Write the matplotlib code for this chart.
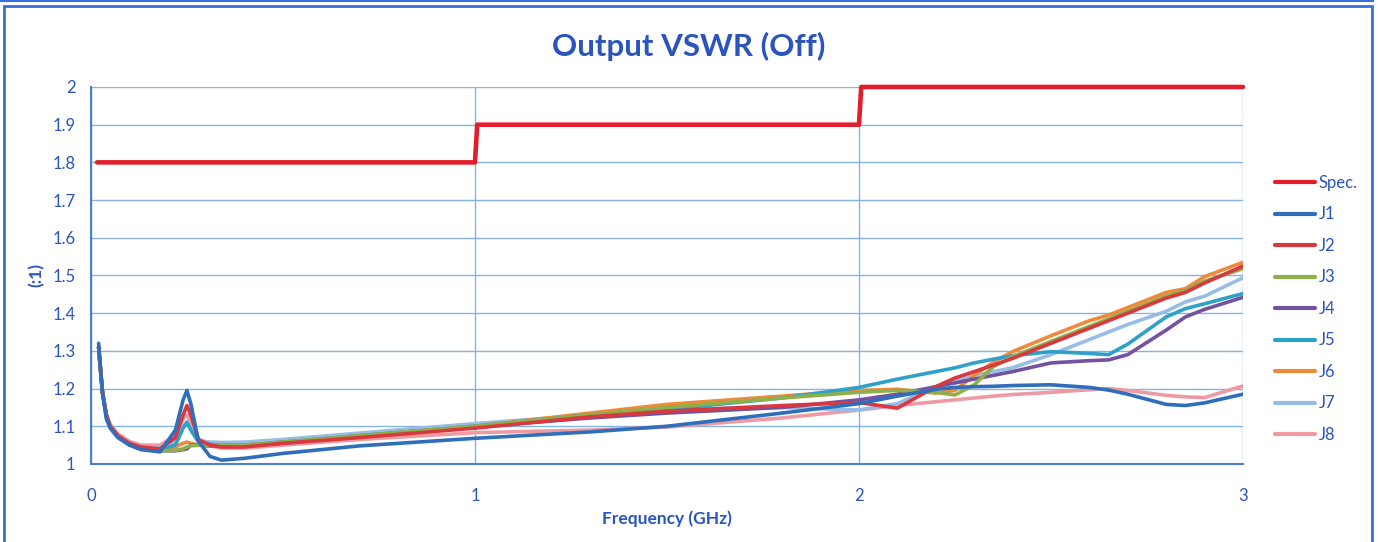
import matplotlib
matplotlib.use("Agg")
import matplotlib.pyplot as plt
from matplotlib.lines import Line2D

plt.rcParams['font.family'] = ['Lato', 'DejaVu Sans']

# spec limit
spec_freq = [0.016, 1.0, 1.006, 2.0, 2.006, 3.0]
spec_vswr = [1.8, 1.8, 1.9, 1.9, 2.0, 2.0]

freq = [0.02, 0.025, 0.03, 0.04, 0.05, 0.07, 0.1, 0.13, 0.18, 0.22, 0.24, 0.25, 0.26, 0.28,
        0.31, 0.34, 0.40, 0.5, 0.7, 1.0, 1.3, 1.5, 1.8, 2.0, 2.1, 2.2, 2.25,
        2.3, 2.35, 2.4, 2.5, 2.6, 2.65, 2.7, 2.8, 2.85, 2.9, 3.0]

j1 = [1.32, 1.25, 1.19, 1.12, 1.095, 1.07, 1.05, 1.038, 1.032, 1.09, 1.17, 1.195, 1.16, 1.06,
      1.02, 1.01, 1.015, 1.028, 1.048, 1.068, 1.085, 1.1, 1.135, 1.16, 1.18, 1.198, 1.203,
      1.205, 1.206, 1.208, 1.21, 1.203, 1.196, 1.185, 1.158, 1.155, 1.162, 1.185]
j2 = [1.31, 1.25, 1.19, 1.13, 1.1, 1.075, 1.055, 1.045, 1.04, 1.07, 1.13, 1.155, 1.13, 1.065,
      1.05, 1.045, 1.045, 1.055, 1.07, 1.095, 1.125, 1.14, 1.155, 1.163, 1.148, 1.205, 1.228,
      1.245, 1.262, 1.28, 1.32, 1.36, 1.38, 1.40, 1.44, 1.455, 1.48, 1.525]
j3 = [1.31, 1.25, 1.19, 1.13, 1.1, 1.072, 1.052, 1.04, 1.035, 1.036, 1.04, 1.045, 1.048, 1.05,
      1.05, 1.05, 1.05, 1.058, 1.075, 1.1, 1.13, 1.15, 1.175, 1.19, 1.195, 1.19, 1.183,
      1.21, 1.258, 1.285, 1.325, 1.365, 1.385, 1.405, 1.445, 1.46, 1.485, 1.518]
j4 = [1.31, 1.25, 1.19, 1.13, 1.1, 1.072, 1.052, 1.04, 1.035, 1.035, 1.038, 1.04, 1.05, 1.05,
      1.048, 1.048, 1.048, 1.055, 1.072, 1.098, 1.122, 1.135, 1.15, 1.17, 1.185, 1.205, 1.215,
      1.225, 1.235, 1.245, 1.268, 1.274, 1.276, 1.29, 1.355, 1.39, 1.41, 1.442]
j5 = [1.31, 1.25, 1.19, 1.13, 1.1, 1.073, 1.053, 1.042, 1.038, 1.05, 1.095, 1.11, 1.09, 1.058,
      1.052, 1.05, 1.05, 1.058, 1.075, 1.1, 1.13, 1.145, 1.175, 1.203, 1.225, 1.245, 1.255,
      1.268, 1.278, 1.287, 1.298, 1.293, 1.29, 1.318, 1.39, 1.412, 1.425, 1.452]
j6 = [1.31, 1.25, 1.19, 1.13, 1.1, 1.073, 1.053, 1.04, 1.04, 1.045, 1.055, 1.058, 1.055, 1.05,
      1.048, 1.048, 1.05, 1.058, 1.075, 1.1, 1.135, 1.158, 1.18, 1.195, 1.198, 1.188, 1.195,
      1.235, 1.27, 1.298, 1.34, 1.38, 1.395, 1.415, 1.455, 1.465, 1.497, 1.535]
j7 = [1.31, 1.25, 1.19, 1.13, 1.1, 1.075, 1.056, 1.045, 1.042, 1.06, 1.1, 1.112, 1.095, 1.062,
      1.058, 1.057, 1.058, 1.065, 1.082, 1.107, 1.13, 1.145, 1.15, 1.143, 1.16, 1.205, 1.22,
      1.235, 1.245, 1.255, 1.29, 1.33, 1.35, 1.37, 1.405, 1.43, 1.445, 1.494]
j8 = [1.30, 1.25, 1.19, 1.13, 1.105, 1.08, 1.06, 1.05, 1.05, 1.075, 1.12, 1.13, 1.11, 1.065,
      1.048, 1.042, 1.042, 1.05, 1.065, 1.083, 1.09, 1.098, 1.122, 1.143, 1.155, 1.165, 1.17,
      1.175, 1.18, 1.184, 1.19, 1.197, 1.2, 1.195, 1.182, 1.178, 1.176, 1.207]

series = [("J1", j1, "#2F6EBA"), ("J2", j2, "#D9383F"), ("J3", j3, "#8DB04A"),
          ("J4", j4, "#7352A0"), ("J5", j5, "#2FA0C8"), ("J6", j6, "#EE8A3A"),
          ("J7", j7, "#97BDE6"), ("J8", j8, "#EE9AA2")]

text_blue = "#2A55BE"
frame_blue = "#3A6FD8"

fig = plt.figure(figsize=(13.82, 5.42), dpi=100)
ax = fig.add_axes([0.0658, 0.144, 0.8336, 0.6955])

# draw in reverse so J1 sits on top like the original
for name, vals, col in reversed(series):
    ax.plot(freq, vals, color=col, lw=2.6, solid_capstyle="round", label=name)
ax.plot(spec_freq, spec_vswr, color="#E31E2A", lw=3.3, solid_capstyle="round",
        clip_on=False, label="Spec.")

ax.set_xlim(0, 3)
ax.set_ylim(1, 2)
ax.set_xticks([0, 1, 2, 3])
ax.set_yticks([1 + 0.1 * i for i in range(11)])
ax.set_yticklabels(["1", "1.1", "1.2", "1.3", "1.4", "1.5", "1.6", "1.7", "1.8", "1.9", "2"])
ax.grid(True, color="#86B4E0", lw=1.0)
ax.set_axisbelow(True)
for s in ["top", "right"]:
    ax.spines[s].set_visible(False)
for s in ["left", "bottom"]:
    ax.spines[s].set_color("#4A7FD0")
    ax.spines[s].set_linewidth(1.5)
ax.tick_params(length=0, colors=text_blue, labelsize=12)
ax.tick_params(axis="x", pad=17)
ax.tick_params(axis="y", pad=11)

ax.set_xlabel("Frequency (GHz)", color=text_blue, fontsize=12.5, fontweight="bold", labelpad=5)
ax.set_ylabel("(:1)", color=text_blue, fontsize=12.5, fontweight="bold", labelpad=6)
fig.text(0.498, 0.915, "Output VSWR (Off)", ha="center", va="center",
         color=text_blue, fontsize=22.5, fontweight="bold")

handles = [Line2D([], [], color="#E31E2A", lw=3, solid_capstyle="round")]
labels = ["Spec."]
for name, vals, col in series:
    handles.append(Line2D([], [], color=col, lw=3, solid_capstyle="round"))
    labels.append(name)
leg = fig.legend(handles, labels, loc="upper left", bbox_to_anchor=(0.912, 0.705),
                 frameon=False, fontsize=12, handlelength=2.4, handletextpad=0.2,
                 labelspacing=0.93)
for t in leg.get_texts():
    t.set_color(text_blue)

# outer frame like the pasted chart box
fig.add_artist(plt.Rectangle((4 / 1382, -0.05), 1368 / 1382, 1 - 6 / 542 + 0.05,
                             transform=fig.transFigure, fill=False,
                             edgecolor=frame_blue, lw=2))
fig.add_artist(Line2D([0, 1373 / 1382], [1 - 1 / 542, 1 - 1 / 542],
                      transform=fig.transFigure, color=frame_blue, lw=1.5))

fig.savefig("out.png", dpi=100)
